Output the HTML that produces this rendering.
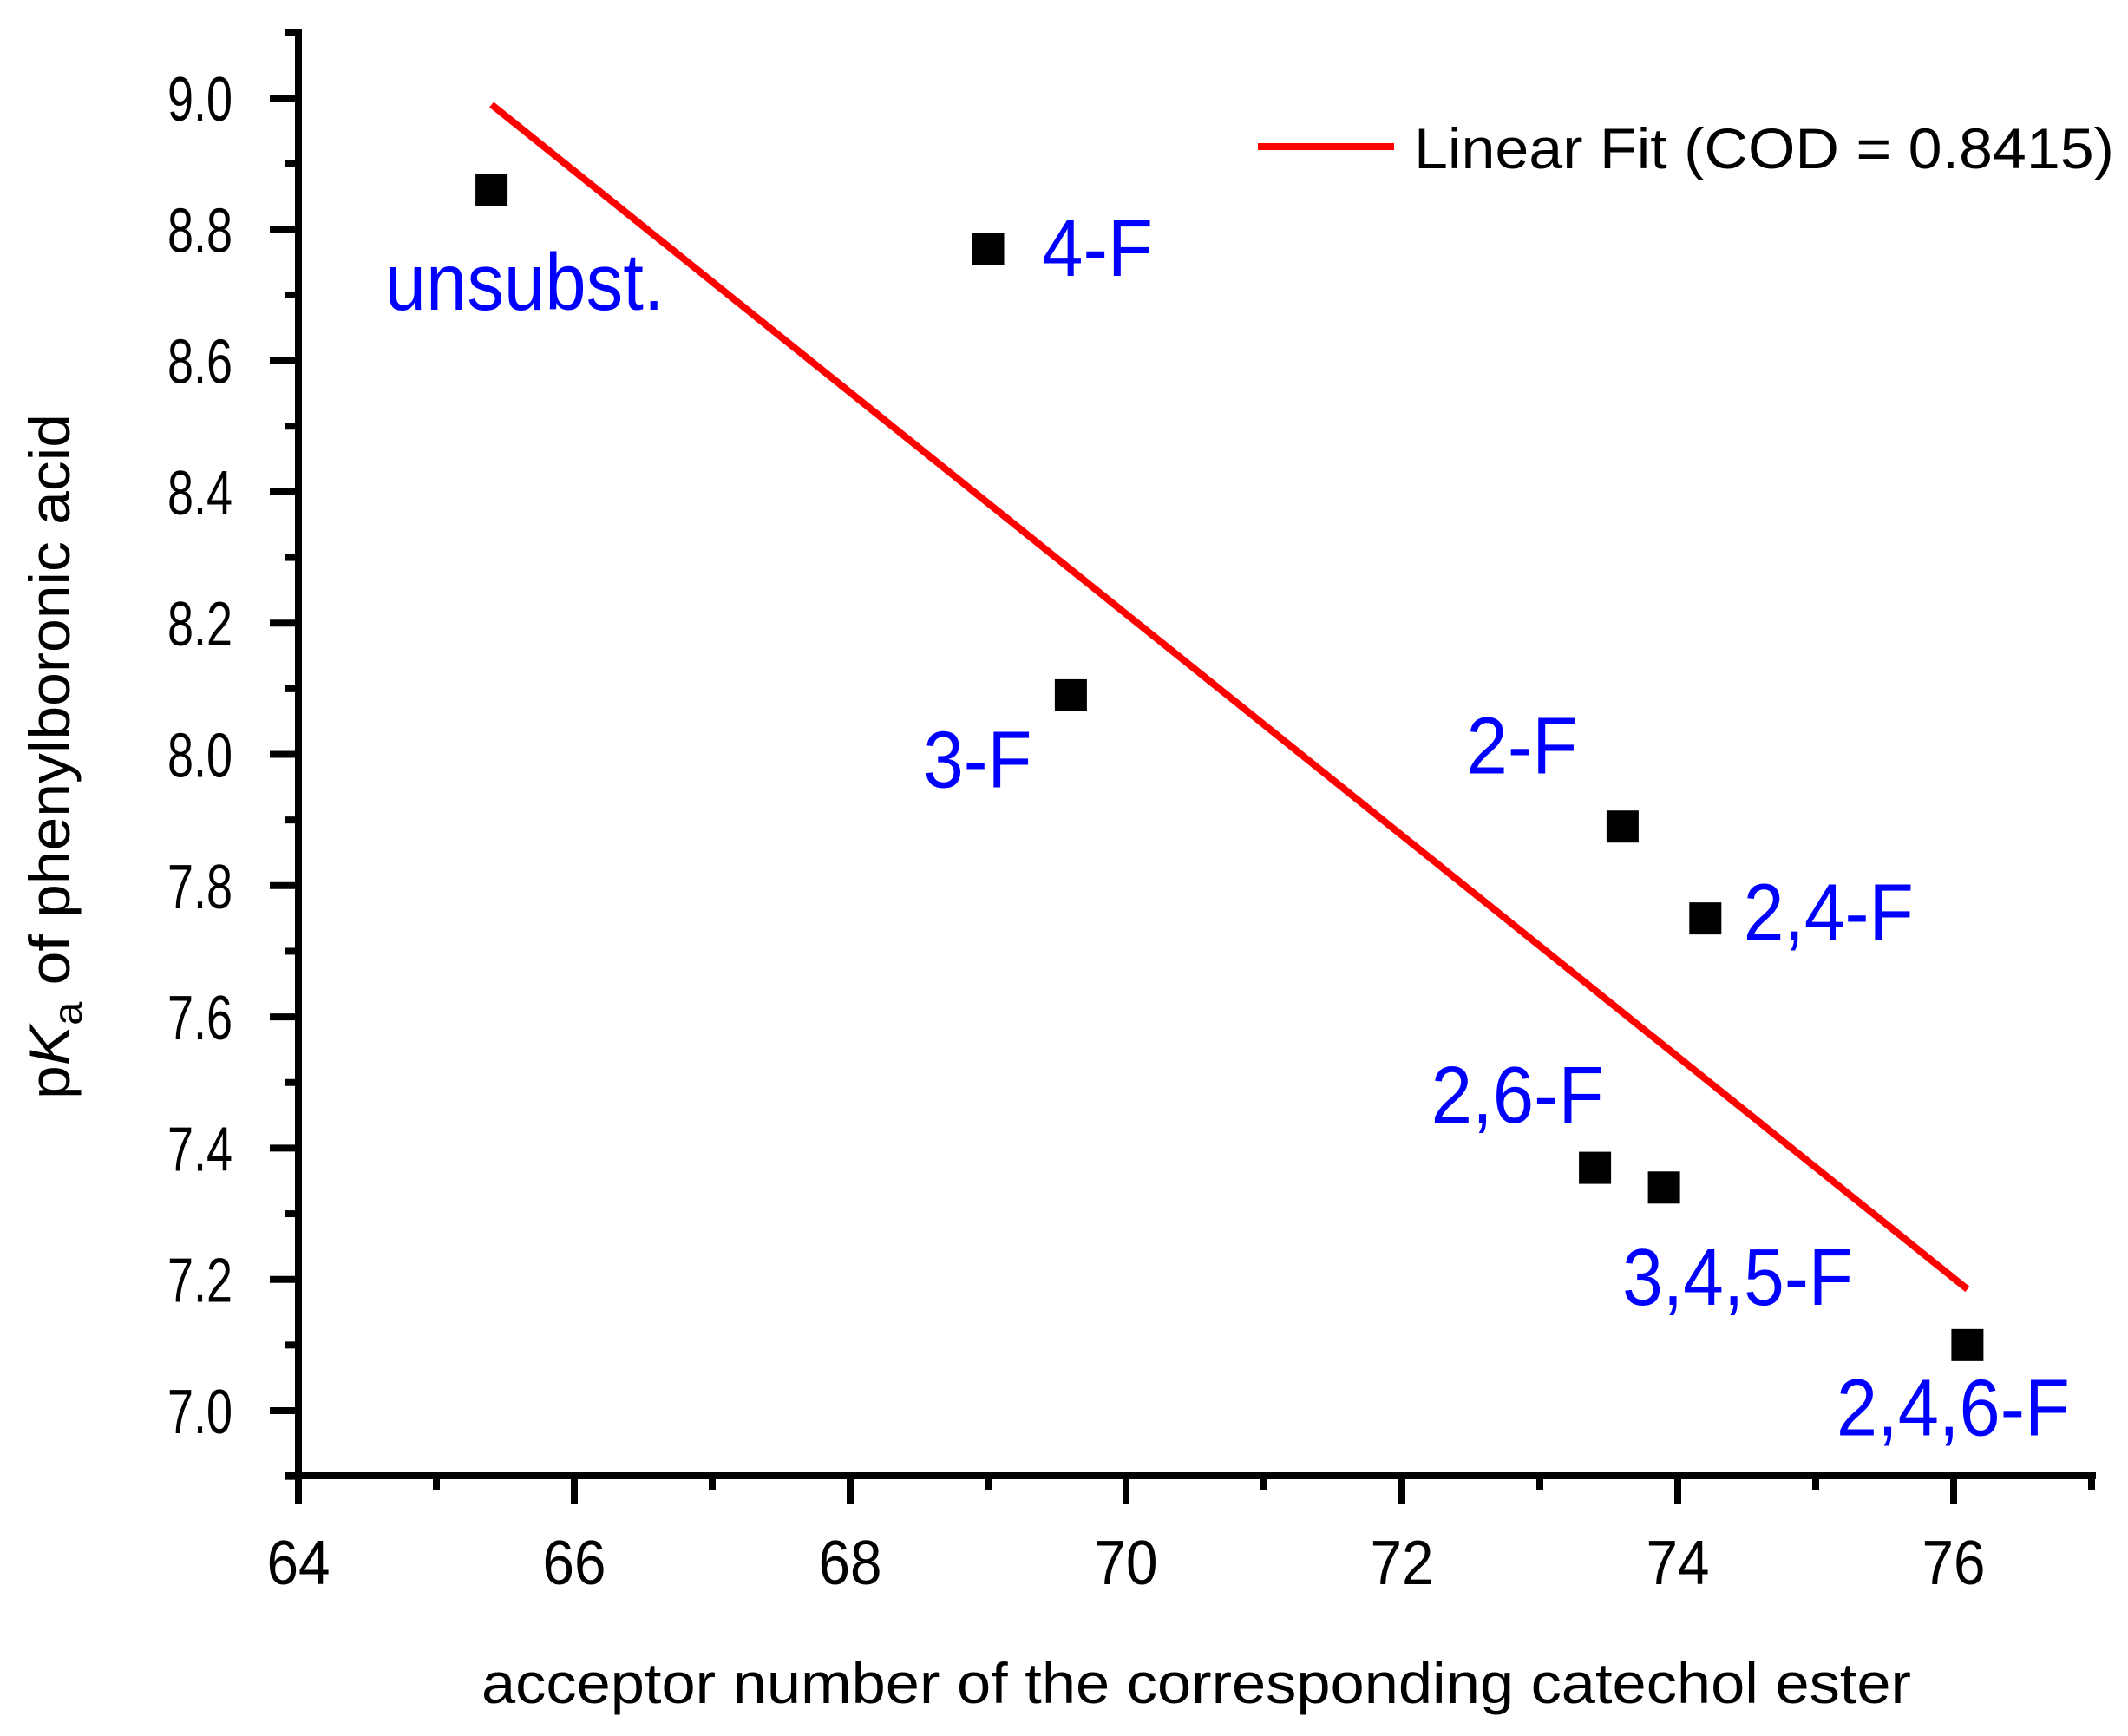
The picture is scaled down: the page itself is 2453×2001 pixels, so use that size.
<!DOCTYPE html>
<html><head><meta charset="utf-8"><style>
html,body{margin:0;padding:0;background:#fff;}
svg{display:block;font-family:"Liberation Sans",Arial,sans-serif;}
</style></head><body>
<svg id="chart" width="2453" height="2001" viewBox="0 0 2453 2001">
<g id="axes"></g>
<g id="fit"></g>
<g id="points"></g>
<g id="labels"></g>
<g>
<line x1="1450" y1="169" x2="1607" y2="169" stroke="#f00" stroke-width="8"/>
<text x="1630" y="194" font-size="66" textLength="807" lengthAdjust="spacingAndGlyphs">Linear Fit (COD = 0.8415)</text>
</g>
<text x="555" y="1963" font-size="66" textLength="1648" lengthAdjust="spacingAndGlyphs">acceptor number of the corresponding catechol ester</text>
<text transform="translate(80,1267) rotate(-90)" font-size="66" textLength="790" lengthAdjust="spacingAndGlyphs">p<tspan font-style="italic">K</tspan><tspan font-size="46" dy="14">a</tspan><tspan dy="-14"> of phenylboronic acid</tspan></text>
</svg>
<script>
const categories = ["unsubst.","4-F","3-F","2-F","2,4-F","2,6-F","3,4,5-F","2,4,6-F"];
const xValues = [65.4,69.0,69.6,73.6,74.2,73.4,73.9,76.1];
const yValues = [8.86,8.77,8.09,7.89,7.75,7.37,7.34,7.10];
const fitX = [65.4,76.1];
const fitY = [8.99,7.185];
const xTicks = ["64","66","68","70","72","74","76"];
const yTicks = ["7.0","7.2","7.4","7.6","7.8","8.0","8.2","8.4","8.6","8.8","9.0"];
const labelDx = [-123,62,-170,-180,44,-189,-48,-151];
const labelDy = [138,31,106,-61,25,-52,135,104];
const labelW = [322,128,125,128,196,199,266,269];

const X0=344, XPX=159, Y0=113, YPX=756.5;
const sx = v => X0 + (v-64)*XPX;
const sy = v => Y0 + (9.0-v)*YPX;
const NS="http://www.w3.org/2000/svg";
function mk(tag, parent, attrs){const e=document.createElementNS(NS,tag);for(const k in attrs)e.setAttribute(k,attrs[k]);parent.appendChild(e);return e;}
const axes=document.getElementById('axes');
let l=mk('line',axes,{x1:344,y1:34,x2:344,y2:1705,stroke:'#000','stroke-width':8});


l=mk('line',axes,{x1:328,y1:1701,x2:2416,y2:1701,stroke:'#000','stroke-width':8});


for(let v=64; v<=77.001; v+=1){
  const major = (Math.round(v)%2===0);
  const t=mk('line',axes,{x1:sx(v),y1:1701,x2:sx(v),y2:major?1734:1717,stroke:'#000','stroke-width':8});
  
  
}
xTicks.forEach(s=>{
  const t=mk('text',axes,{x:sx(parseFloat(s)),y:1826,'font-size':72,'text-anchor':'middle',textLength:73,lengthAdjust:'spacingAndGlyphs'});
  t.textContent=s;
  
  
});
for(let i=0;i<=22;i++){
  const v=6.9+i*0.1;
  const major = (i%2===1);
  const t=mk('line',axes,{x1:major?311:328,y1:sy(v),x2:344,y2:sy(v),stroke:'#000','stroke-width':8});
  
  
}
yTicks.forEach(s=>{
  const t=mk('text',axes,{x:268,y:sy(parseFloat(s))+26,'font-size':72,'text-anchor':'end',textLength:75,lengthAdjust:'spacingAndGlyphs'});
  t.textContent=s;
  
  
});
const fit=document.getElementById('fit');
l=mk('line',fit,{x1:sx(fitX[0]),y1:sy(fitY[0]),x2:sx(fitX[1]),y2:sy(fitY[1]),stroke:'#f00','stroke-width':8});


const pts=document.getElementById('points'), lab=document.getElementById('labels');
categories.forEach((c,i)=>{
  const px=sx(xValues[i]), py=sy(yValues[i]);
  const r=mk('rect',pts,{x:px-18.5,y:py-18.5,width:37,height:37,fill:'#000'});
  
  
  const t=mk('text',lab,{x:px+labelDx[i],y:py+labelDy[i],'font-size':93,fill:'#00f',textLength:labelW[i],lengthAdjust:'spacingAndGlyphs'});
  t.textContent=c;
  
  
});
</script>
</body></html>
